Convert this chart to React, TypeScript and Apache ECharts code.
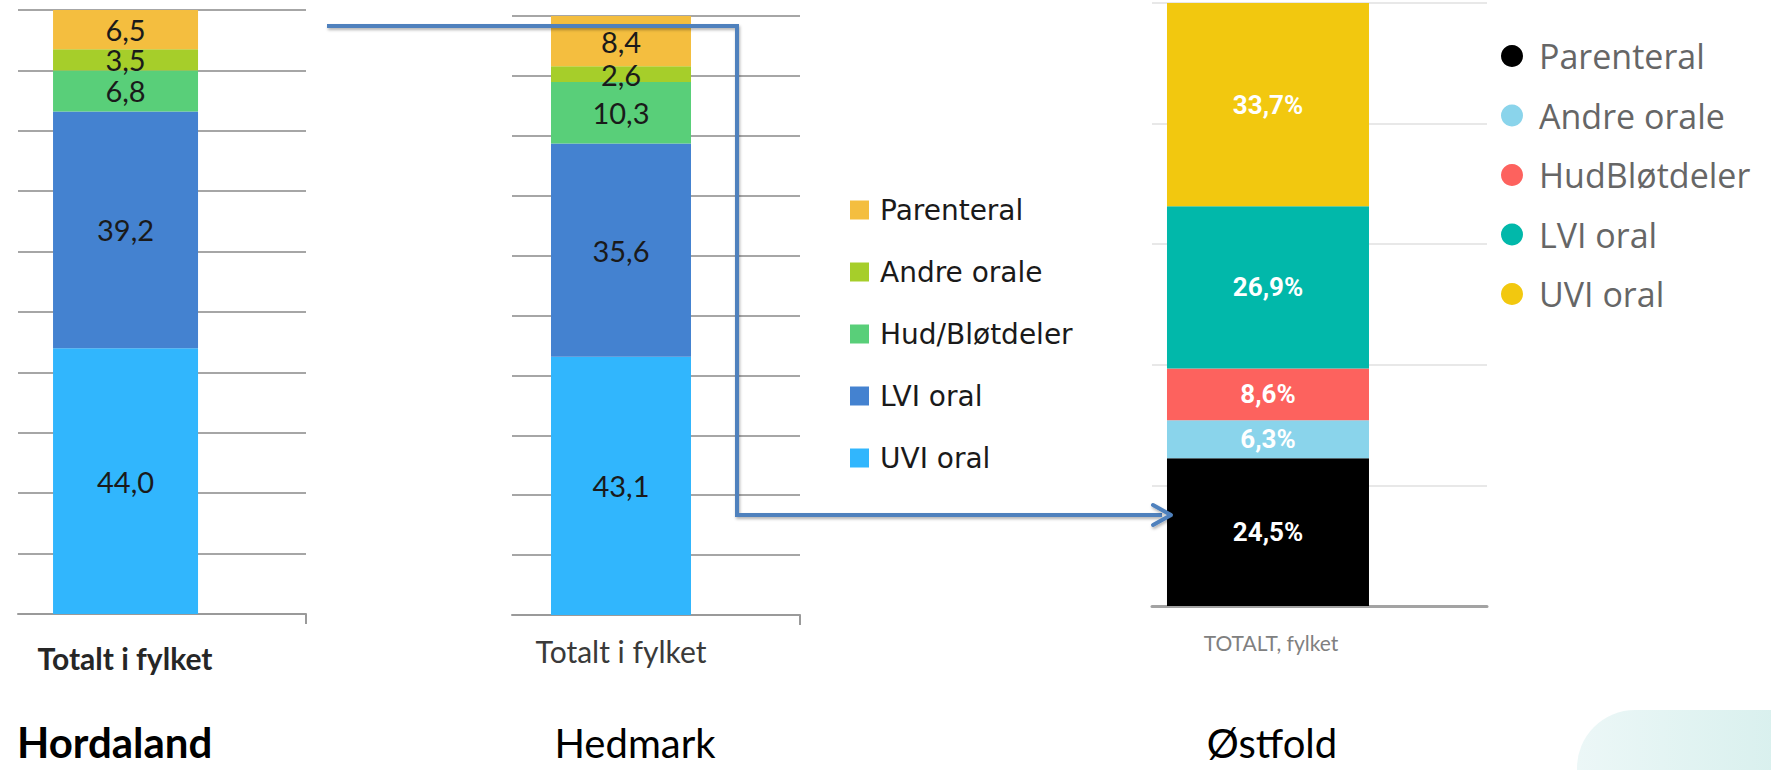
import React, { useEffect, useRef } from 'react';
import * as echarts from 'echarts';

// ---------- data ----------
const categoryHordaland = 'Totalt i fylket';
const categoryHedmark = 'Totalt i fylket';
const categoryOstfold = 'TOTALT, fylket';
const countyTitles = ['Hordaland', 'Hedmark', 'Østfold'];

// bottom -> top stacking order
const seriesNamesHH = ['UVI oral', 'LVI oral', 'Hud/Bløtdeler', 'Andre orale', 'Parenteral'];
const colorsHH = ['#31B6FD', '#4482D0', '#59CF79', '#A6CE2A', '#F4BE3F'];
const hordalandValues = [44.0, 39.2, 6.8, 3.5, 6.5];
const hedmarkValues = [43.1, 35.6, 10.3, 2.6, 8.4];

const seriesNamesO = ['Parenteral', 'Andre orale', 'HudBløtdeler', 'LVI oral', 'UVI oral'];
const colorsO = ['#000000', '#8AD4EB', '#FD625E', '#01B8AA', '#F2C80F'];
const ostfoldValues = [24.5, 6.3, 8.6, 26.9, 33.7];

const legendHH = ['Parenteral', 'Andre orale', 'Hud/Bløtdeler', 'LVI oral', 'UVI oral'];
const legendO = ['Parenteral', 'Andre orale', 'HudBløtdeler', 'LVI oral', 'UVI oral'];

// ---------- helpers ----------
const fmt = (v: number) => v.toFixed(1).replace('.', ',');

// panel layout (pixels)
const panels = [
  { left: 18, top: 10, width: 288, height: 604, barLeft: 53, barWidth: 145, labelCenter: 125, labelMargin: 29 },
  { left: 512, top: 16, width: 288, height: 599, barLeft: 551, barWidth: 140, labelCenter: 621, labelMargin: 21 },
  { left: 1152, top: 3, width: 335, height: 603, barLeft: 1167, barWidth: 202, labelCenter: 1271, labelMargin: 26 },
];

function gapFor(p: typeof panels[number]) {
  const bandCenter = p.left + p.width / 2;
  const barCenter = p.barLeft + p.barWidth / 2;
  const s = bandCenter - barCenter;
  const g = (2 * s) / p.barWidth - 1;
  return (g * 100).toFixed(1) + '%';
}
function labelPad(p: typeof panels[number]) {
  const bandCenter = p.left + p.width / 2;
  return 2 * (bandCenter - p.labelCenter);
}

export default function App() {
  const ref = useRef<HTMLDivElement>(null);
  useEffect(() => {
    if (!ref.current) return;
    const chart = echarts.init(ref.current, undefined, { renderer: 'svg' });

    const series: any[] = [];
    const mkHH = (values: number[], idx: number, stack: string) => {
      const p = panels[idx];
      const gap = gapFor(p);
      values.forEach((v, i) => {
        series.push({
          type: 'bar',
          name: seriesNamesHH[i],
          stack,
          xAxisIndex: idx,
          yAxisIndex: idx,
          barWidth: p.barWidth,
          barGap: gap,
          data: [v],
          itemStyle: { color: colorsHH[i] },
          label: {
            show: true,
            position: 'inside',
            formatter: (q: any) => fmt(q.value),
            color: '#1a1a1a',
            fontFamily: 'Lato, sans-serif',
            fontSize: 29,
          },
          emphasis: { disabled: true },
        });
      });
      series.push({
        type: 'bar',
        name: '',
        stack: stack + '_pad',
        xAxisIndex: idx,
        yAxisIndex: idx,
        barWidth: p.barWidth,
        barGap: gap,
        data: ['-'],
        silent: true,
      });
    };
    mkHH(hordalandValues, 0, 'hord');
    mkHH(hedmarkValues, 1, 'hed');

    {
      const p = panels[2];
      const gap = gapFor(p);
      ostfoldValues.forEach((v, i) => {
        series.push({
          type: 'bar',
          name: seriesNamesO[i],
          stack: 'ost',
          xAxisIndex: 2,
          yAxisIndex: 2,
          barWidth: p.barWidth,
          barGap: gap,
          data: [v],
          itemStyle: { color: colorsO[i] },
          label: {
            show: true,
            position: 'inside',
            formatter: (q: any) => fmt(q.value) + '%',
            color: '#ffffff',
            fontFamily: 'Roboto, sans-serif',
            fontWeight: 'bold',
            fontSize: 26,
          },
          emphasis: { disabled: true },
        });
      });
      series.push({
        type: 'bar',
        name: '',
        stack: 'ost_pad',
        xAxisIndex: 2,
        yAxisIndex: 2,
        barWidth: p.barWidth,
        barGap: gap,
        data: ['-'],
        silent: true,
      });
    }

    const xCats = [categoryHordaland, categoryHedmark, categoryOstfold];
    const xLabelStyles = [
      { fontFamily: 'Lato, sans-serif', fontWeight: 'bold', fontSize: 30, color: '#262626' },
      { fontFamily: 'Lato, sans-serif', fontWeight: 'normal', fontSize: 30, color: '#3a3a3a' },
      { fontFamily: 'Lato, sans-serif', fontWeight: 'normal', fontSize: 21, color: '#808080' },
    ];

    const option: any = {
      animation: false,
      grid: panels.map((p) => ({ left: p.left, top: p.top, width: p.width, height: p.height })),
      xAxis: panels.map((p, i) => ({
        type: 'category',
        gridIndex: i,
        data: [xCats[i]],
        axisLine: { lineStyle: { color: i === 2 ? '#a3a3a3' : '#9a9a9a', width: i === 2 ? 3 : 2 } },
        axisTick: { show: false },
        axisLabel: {
          ...xLabelStyles[i],
          margin: p.labelMargin,
          padding: [0, labelPad(p), 0, 0],
        },
      })),
      yAxis: panels.map((p, i) => ({
        type: 'value',
        gridIndex: i,
        min: 0,
        max: 100,
        interval: i === 2 ? 20 : 10,
        axisLabel: { show: false },
        axisLine: { show: false },
        axisTick: { show: false },
        splitLine: { lineStyle: { color: i === 2 ? '#e8e8e8' : '#a6a6a6', width: 2 } },
      })),
      legend: [
        {
          orient: 'vertical',
          left: 850,
          top: 196,
          padding: 0,
          itemWidth: 19,
          itemHeight: 19,
          itemGap: 34,
          icon: 'rect',
          selectedMode: false,
          data: legendHH.map((n) => ({ name: n })),
          textStyle: { fontFamily: 'DejaVu Sans, sans-serif', fontSize: 28, color: '#1a1a1a', padding: [0, 0, 0, 6] },
        },
        {
          orient: 'vertical',
          left: 1501,
          top: 39,
          padding: 0,
          itemWidth: 22,
          itemHeight: 22,
          itemGap: 25.5,
          icon: 'circle',
          selectedMode: false,
          data: legendO.map((n, i) => ({ name: n, itemStyle: { color: colorsO[i] } })),
          textStyle: { fontFamily: 'Open Sans, sans-serif', fontSize: 34, color: '#666666', padding: [0, 0, 0, 11] },
        },
      ],
      graphic: [
        {
          type: 'rect',
          z: -10,
          shape: { x: 1577, y: 710, width: 260, height: 120, r: 58 },
          style: {
            fill: new echarts.graphic.LinearGradient(0, 0, 1, 0, [
              { offset: 0, color: '#ecf7f7' },
              { offset: 1, color: '#d3eeeb' },
            ]),
          },
        },
        // right-end ticks of the left two axes
        { type: 'line', z: 5, shape: { x1: 306, y1: 614, x2: 306, y2: 624 }, style: { stroke: '#9a9a9a', lineWidth: 2 } },
        { type: 'line', z: 5, shape: { x1: 800, y1: 615, x2: 800, y2: 625 }, style: { stroke: '#9a9a9a', lineWidth: 2 } },
        // connector arrow
        {
          type: 'polyline',
          z: 100,
          shape: { points: [[327, 26], [737, 26], [737, 515], [1162, 515]] },
          style: {
            stroke: '#4F81BD',
            lineWidth: 4,
            fill: null,
            lineJoin: 'miter',
            shadowBlur: 3,
            shadowColor: 'rgba(0,0,0,0.3)',
            shadowOffsetX: 1,
            shadowOffsetY: 2,
          },
        },
        {
          type: 'polyline',
          z: 100,
          shape: { points: [[1153, 505], [1171, 515], [1153, 525]] },
          style: {
            stroke: '#4F81BD',
            lineWidth: 4,
            fill: null,
            lineJoin: 'round',
            lineCap: 'round',
            shadowBlur: 3,
            shadowColor: 'rgba(0,0,0,0.3)',
            shadowOffsetX: 1,
            shadowOffsetY: 2,
          },
        },
        // county titles
        {
          type: 'text',
          z: 10,
          x: 17,
          y: 742,
          style: {
            text: countyTitles[0],
            fontFamily: 'Lato, sans-serif',
            fontWeight: 'bold',
            fontSize: 42,
            fill: '#000',
            textAlign: 'left',
            textVerticalAlign: 'middle',
          },
        },
        {
          type: 'text',
          z: 10,
          x: 635,
          y: 743,
          style: {
            text: countyTitles[1],
            fontFamily: 'Lato, sans-serif',
            fontSize: 40,
            fill: '#000',
            textAlign: 'center',
            textVerticalAlign: 'middle',
          },
        },
        {
          type: 'text',
          z: 10,
          x: 1272,
          y: 743,
          style: {
            text: countyTitles[2],
            fontFamily: 'Lato, sans-serif',
            fontSize: 40,
            fill: '#000',
            textAlign: 'center',
            textVerticalAlign: 'middle',
          },
        },
      ],
      series,
    };
    chart.setOption(option);
    return () => chart.dispose();
  }, []);

  return (
    <div
      ref={ref}
      style={{ position: 'absolute', left: 0, top: 0, width: 1771, height: 770, background: '#ffffff' }}
    />
  );
}
